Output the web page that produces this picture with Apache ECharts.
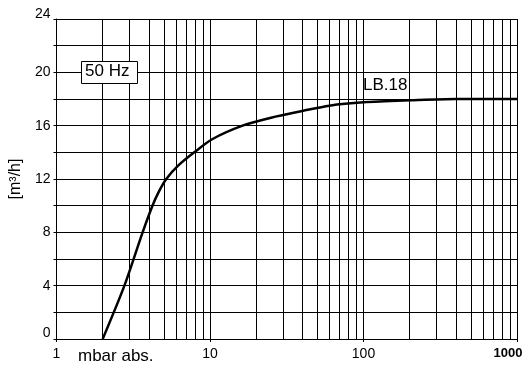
<!DOCTYPE html>
<html>
<head>
<meta charset="utf-8">
<script src="https://cdn.jsdelivr.net/npm/echarts@6/dist/echarts.min.js"></script>
<style>
html,body{margin:0;padding:0;background:#fff;}
#chart{width:532px;height:367px;}
</style>
</head>
<body>
<div id="chart"></div>
<script>
// Pressure [mbar abs.] (log x axis)
const pressure = [2.0, 2.77, 3.64, 4.22, 4.62, 5.19, 6.2, 7.9, 10.4, 16.3, 25, 40, 60, 100, 200, 400, 1000];
// Pumping speed [m3/h]
const flow     = [0,   4,    8,    10,   11,   12,   13,  14,  15,   16,   16.6, 17.1, 17.5, 17.75, 17.9, 18, 18];
const seriesName = 'LB.18';
const freqLabel = '50 Hz';
const xAxisTitle = 'mbar abs.';
const yAxisTitle = '[m\u00b3/h]';
const yLabelValues = [0, 4, 8, 12, 16, 20, 24];
const xMinorGrid = [2,3,4,5,6,7,8,9,20,30,40,50,60,70,80,90,200,300,400,500,600,700,800,900];

const chart = echarts.init(document.getElementById('chart'), null, {renderer: 'canvas'});
const narrow = "'Liberation Sans Narrow','Arial Narrow','Liberation Sans',sans-serif";
const sans = "'Liberation Sans',Arial,sans-serif";

chart.setOption({
  animation: false,
  backgroundColor: '#fff',
  grid: {left: 52, top: 19, width: 465, height: 320},
  xAxis: {
    type: 'log', logBase: 10, min: 1, max: 1000,
    axisLine: {show: true, lineStyle: {color: '#000', width: 1}},
    axisTick: {show: true, length: 3, lineStyle: {color: '#000'}},
    splitLine: {show: true, lineStyle: {color: '#000', width: 1}},
    axisLabel: {
      color: '#000', fontFamily: narrow, fontSize: 14, margin: 8,
      formatter: function (v) {
        const r = Math.round(v);
        return r === 1000 ? '{b|1000}' : String(r);
      },
      rich: {b: {fontFamily: narrow, fontWeight: 'bold', fontSize: 13, color: '#000', padding: [0, 18, 0, 0]}}
    }
  },
  yAxis: {
    type: 'value', min: 0, max: 24, interval: 2,
    name: yAxisTitle, nameLocation: 'middle', nameGap: 26, nameRotate: 90,
    nameTextStyle: {color: '#000', fontFamily: sans, fontSize: 16},
    axisLine: {show: true, lineStyle: {color: '#000', width: 1}},
    axisTick: {show: true, length: 3, lineStyle: {color: '#000'}},
    splitLine: {show: true, lineStyle: {color: '#000', width: 1}},
    axisLabel: {
      color: '#000', fontFamily: narrow, fontSize: 14, margin: 6,
      formatter: function (v) {
        if (yLabelValues.indexOf(v) < 0) return '';
        if (v === 24) return '{t|24}';
        if (v === 0) return '{z|0}';
        return String(v);
      },
      rich: {
        t: {fontFamily: narrow, fontSize: 14, color: '#000', padding: [0, 0, 9, 0]},
        z: {fontFamily: narrow, fontSize: 14, color: '#000', padding: [0, 0, 11, 0]}
      }
    }
  },
  series: [{
    name: seriesName,
    type: 'line',
    data: pressure.map((p, i) => [p, flow[i]]),
    showSymbol: false,
    smooth: 0.3,
    lineStyle: {color: '#000', width: 2.5},
    z: 5,
    markLine: {
      silent: true, symbol: 'none', animation: false,
      label: {show: false},
      lineStyle: {color: '#000', width: 1, type: 'solid'},
      data: xMinorGrid.map(v => ({xAxis: v}))
    }
  }],
  graphic: [
    {type: 'rect', left: 81, top: 61, shape: {width: 56, height: 22}, style: {fill: '#fff', stroke: '#000', lineWidth: 1}, z: 10},
    {type: 'text', left: 85, top: 63, style: {text: freqLabel, font: "17px 'Liberation Sans', Arial, sans-serif", fill: '#000'}, z: 11},
    {type: 'text', left: 363, top: 77, style: {text: seriesName, font: "17px 'Liberation Sans', Arial, sans-serif", fill: '#000'}, z: 11},
    {type: 'text', left: 78, top: 348, style: {text: xAxisTitle, font: "17px 'Liberation Sans', Arial, sans-serif", fill: '#000'}, z: 11}
  ]
});
</script>
</body>
</html>
